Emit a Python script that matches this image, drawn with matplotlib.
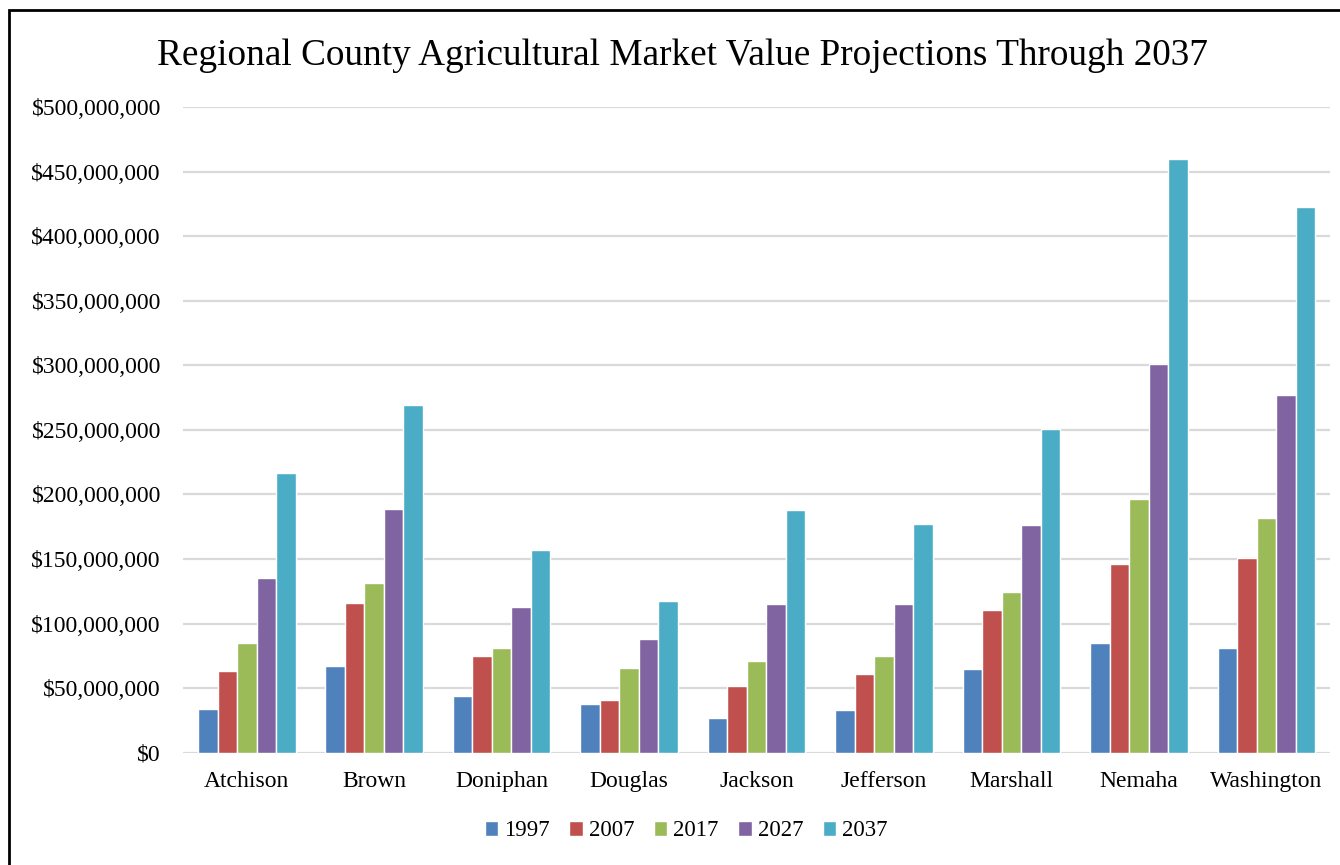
import numpy as np
import matplotlib
matplotlib.use('Agg')
import matplotlib.pyplot as plt
from matplotlib.patches import Rectangle
from matplotlib.ticker import FuncFormatter

counties = ['Atchison', 'Brown', 'Doniphan', 'Douglas', 'Jackson',
            'Jefferson', 'Marshall', 'Nemaha', 'Washington']
years = ['1997', '2007', '2017', '2027', '2037']

# market value in millions of dollars, per county
v1997 = [33.8, 67.2, 43.9, 37.7, 27.1, 32.9, 64.5, 85.3, 81.4]
v2007 = [63.5, 116.2, 74.7, 41.1, 51.4, 60.6, 110.4, 146.3, 151.1]
v2017 = [84.7, 131.4, 80.9, 65.4, 70.8, 75.1, 124.5, 196.6, 181.5]
v2027 = [135.3, 188.5, 112.6, 87.8, 115.4, 115.5, 176.7, 301.0, 276.8]
v2037 = [216.4, 269.1, 156.8, 117.5, 188.2, 177.3, 250.3, 459.6, 422.5]

colors = ['#4F81BD', '#C0504D', '#9BBB59', '#8064A2', '#4BACC6']

plt.rcParams['font.family'] = ['Liberation Serif', 'DejaVu Serif']

fig = plt.figure(figsize=(13.4, 8.65), dpi=100)
ax = fig.add_axes([0.1366, 0.1298, 0.856, 0.7465])

# outer chart border
fig.patches.append(Rectangle((9 / 1340, -0.05), 1.1, (865 - 10) / 865 + 0.05,
                             transform=fig.transFigure, fill=False,
                             edgecolor='black', linewidth=2, zorder=10))

x = np.arange(len(counties))
step = 0.153
series = [v1997, v2007, v2017, v2027, v2037]
for i, (yr, vals) in enumerate(zip(years, series)):
    offs = (i - 2) * step
    ax.bar(x + offs, np.array(vals) * 1e6, width=step, color=colors[i],
           edgecolor='white', linewidth=1.0, label=yr, zorder=3)

ax.set_xlim(-0.5, len(counties) - 0.5)
ax.set_ylim(0, 500e6)
ax.set_yticks(np.arange(0, 500e6 + 1, 50e6))
ax.yaxis.set_major_formatter(FuncFormatter(lambda v, p: '${:,.0f}'.format(v)))
ax.set_xticks(x)
ax.set_xticklabels(counties)
ax.tick_params(axis='both', length=0, labelsize=17)
ax.tick_params(axis='y', pad=16)
ax.tick_params(axis='x', pad=13)
ax.grid(axis='y', color='#D9D9D9', linewidth=1.6, zorder=0)
for s in ax.spines.values():
    s.set_visible(False)

fig.text(0.5095, 0.936, 'Regional County Agricultural Market Value Projections Through 2037',
         ha='center', va='center', fontsize=26.8)

fig.legend(loc='center', bbox_to_anchor=(0.512, 1 - 831 / 865), ncol=5, frameon=False,
           fontsize=16.5, handlelength=0.6, handleheight=0.6, handletextpad=0.25,
           columnspacing=0.85)

fig.savefig('out.png', dpi=100)
